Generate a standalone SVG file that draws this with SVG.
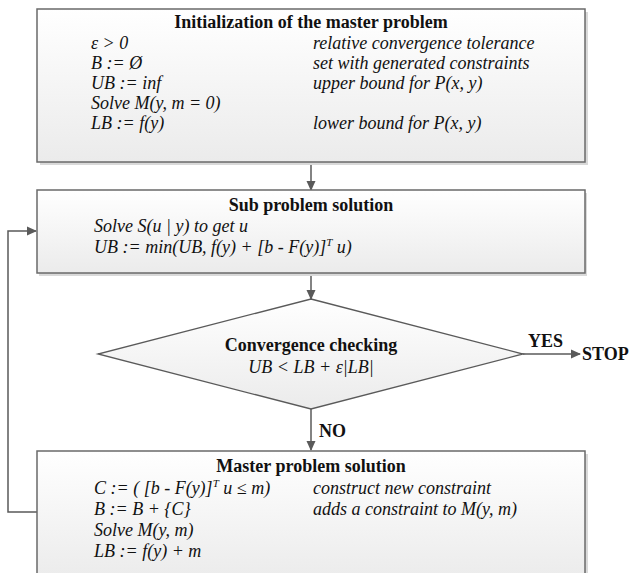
<svg xmlns="http://www.w3.org/2000/svg" width="629" height="573" viewBox="0 0 629 573">
<defs>
<linearGradient id="g" x1="0" y1="0" x2="0" y2="1">
<stop offset="0" stop-color="#ffffff"/>
<stop offset="1" stop-color="#ebebeb"/>
</linearGradient>
<marker id="ah" markerWidth="10" markerHeight="10" refX="9" refY="5" orient="auto" markerUnits="userSpaceOnUse">
<path d="M0,0.5 L10,5 L0,9.5 Z" fill="#5a5a5a"/>
</marker>
</defs>
<style>
.box{fill:url(#g);stroke:#6a6a6a;stroke-width:1.5}
.sh{fill:#d9d9d9}
.t{font-family:"Liberation Serif","Times New Roman",serif;font-size:18px;font-weight:bold;fill:#111;text-anchor:middle}
.b{font-family:"Liberation Serif","Times New Roman",serif;font-size:18px;font-style:italic;fill:#111}
.lab{font-family:"Liberation Serif","Times New Roman",serif;font-size:18px;font-weight:bold;fill:#111}
.c{fill:none;stroke:#5a5a5a;stroke-width:1.5}
.sup{font-size:11px}
</style>
<g id="connectors">
<line class="c" x1="311" y1="162" x2="311" y2="190" marker-end="url(#ah)"/>
<line class="c" x1="311" y1="273" x2="311" y2="299" marker-end="url(#ah)"/>
<line class="c" x1="523" y1="354" x2="580" y2="354" marker-end="url(#ah)"/>
<line class="c" x1="311" y1="409" x2="311" y2="450" marker-end="url(#ah)"/>
<polyline class="c" points="37,512 8,512 8,231 36,231" marker-end="url(#ah)"/>
</g>
<g id="init">
<rect class="sh" x="40" y="12" width="548" height="153"/>
<rect class="box" x="37" y="9" width="548" height="153"/>
<text class="t" x="311" y="28">Initialization of the master problem</text>
<text class="b" x="91" y="49">ε &gt; 0</text>
<text class="b" x="313" y="49">relative convergence tolerance</text>
<text class="b" x="91" y="69">B := Ø</text>
<text class="b" x="313" y="69">set with generated constraints</text>
<text class="b" x="91" y="89">UB := inf</text>
<text class="b" x="313" y="89">upper bound for P(x, y)</text>
<text class="b" x="91" y="109">Solve M(y, m = 0)</text>
<text class="b" x="91" y="129">LB := f(y)</text>
<text class="b" x="313" y="129">lower bound for P(x, y)</text>
</g>
<g id="sub">
<rect class="sh" x="39" y="193" width="548" height="83"/>
<rect class="box" x="37" y="190" width="548" height="83"/>
<text class="t" x="311" y="211">Sub problem solution</text>
<text class="b" x="94" y="232">Solve S(u | y) to get u</text>
<text class="b" x="94" y="253">UB := min(UB, f(y) + [b - F(y)]<tspan class="sup" dy="-7">T</tspan><tspan dy="7"> u)</tspan></text>
</g>
<g id="check">
<polygon points="311,299 523,354 311,409 98,354" fill="url(#g)" stroke="#5a5a5a" stroke-width="1.3"/>
<text class="t" x="311" y="351">Convergence checking</text>
<text class="b" x="311" y="373" text-anchor="middle">UB &lt; LB + ε|LB|</text>
</g>
<g id="yes-label"><text class="lab" x="528" y="347">YES</text></g>
<g id="stop"><text class="lab" x="582" y="360">STOP</text></g>
<g id="no-label"><text class="lab" x="319" y="437">NO</text></g>
<g id="master">
<rect class="sh" x="40" y="454" width="548" height="130"/>
<rect class="box" x="37" y="451" width="548" height="130"/>
<text class="t" x="311" y="472">Master problem solution</text>
<text class="b" x="94" y="494">C := ( [b - F(y)]<tspan class="sup" dy="-7">T</tspan><tspan dy="7"> u ≤ m)</tspan></text>
<text class="b" x="313" y="494">construct new constraint</text>
<text class="b" x="94" y="515">B := B + {C}</text>
<text class="b" x="313" y="515">adds a constraint to M(y, m)</text>
<text class="b" x="94" y="536">Solve M(y, m)</text>
<text class="b" x="94" y="557">LB := f(y) + m</text>
</g>
</svg>
